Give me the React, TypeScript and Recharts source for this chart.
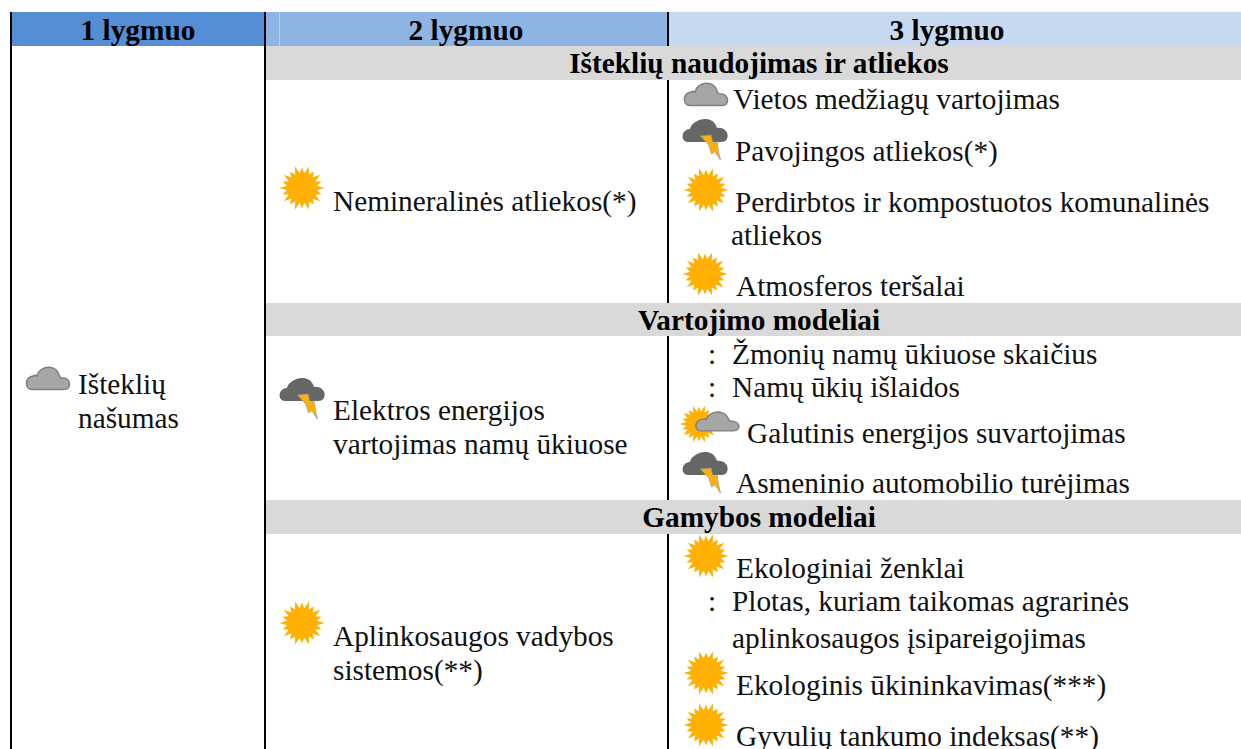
// App.tsx - indicator table drawn on hidden numeric axes
import { ComposedChart, Scatter, XAxis, YAxis, ReferenceArea, ReferenceLine } from 'recharts'

const WIDTH = 1241
const HEIGHT = 749

const headerLabels = ['1 lygmuo', '2 lygmuo', '3 lygmuo']
const headerCentres = [138, 466, 947]
const headerFills = ['#558ed5', '#8eb4e3', '#c6d9f1']
const headerEdges = [10, 265, 668, 1241]

const bandLabels = ['Išteklių naudojimas ir atliekos', 'Vartojimo modeliai', 'Gamybos modeliai']
const bandCentres = [759, 759, 759]
const bandBaselines = [73, 330, 527]
const bandTops = [46, 303, 500]
const bandBottoms = [80, 336, 534]

const bodyLabels = [
  'Išteklių', 'našumas',
  'Nemineralinės atliekos(*)',
  'Elektros energijos', 'vartojimas namų ūkiuose',
  'Aplinkosaugos vadybos', 'sistemos(**)',
  'Vietos medžiagų vartojimas',
  'Pavojingos atliekos(*)',
  'Perdirbtos ir kompostuotos komunalinės', 'atliekos',
  'Atmosferos teršalai',
  ':', 'Žmonių namų ūkiuose skaičius',
  ':', 'Namų ūkių išlaidos',
  'Galutinis energijos suvartojimas',
  'Asmeninio automobilio turėjimas',
  'Ekologiniai ženklai',
  ':', 'Plotas, kuriam taikomas agrarinės', 'aplinkosaugos įsipareigojimas',
  'Ekologinis ūkininkavimas(***)',
  'Gyvulių tankumo indeksas(**)',
]
const bodyX = [
  78, 78, 333, 333, 333, 333, 333, 733, 735, 735, 731, 736,
  708, 732, 708, 732, 747, 736, 736, 708, 732, 732, 736, 736,
]
const bodyY = [
  394, 428, 211, 420, 454, 646, 680, 109, 161, 212, 245, 296,
  364, 364, 397, 397, 443, 493, 578, 611, 611, 648, 695, 746,
]

const iconKinds = [
  'cloud', 'sun', 'storm', 'sun', 'cloud', 'storm', 'sun', 'sun',
  'mixed', 'storm', 'sun', 'sun', 'sun',
]
const iconX = [48, 302, 302, 302, 706, 705, 706, 705, 711, 705, 706, 706, 706]
const iconY = [379, 188, 398, 623, 95, 139, 190, 274, 423, 472, 556, 673, 725]

const headerData = headerLabels.map((label, i) => ({ x: headerCentres[i], y: 40, label }))
const bandData = bandLabels.map((label, i) => ({ x: bandCentres[i], y: bandBaselines[i], label }))
const bodyData = bodyLabels.map((label, i) => ({ x: bodyX[i], y: bodyY[i], label }))
const iconData = iconKinds.map((kind, i) => ({ x: iconX[i], y: iconY[i], kind }))

const FONT = '"Liberation Serif", "Times New Roman", serif'
const FONT_SIZE = 29.3

const BoldCentred = ({ cx, cy, payload }: any) => (
  <text x={cx} y={cy} textAnchor="middle" fontFamily={FONT} fontSize={FONT_SIZE} fontWeight="bold" fill="#000">
    {payload.label}
  </text>
)

const BodyText = ({ cx, cy, payload }: any) => (
  <text x={cx} y={cy} fontFamily={FONT} fontSize={FONT_SIZE} fill="#111">
    {payload.label}
  </text>
)

const sunPoints = () => {
  const pts: string[] = []
  const n = 20
  for (let i = 0; i < n * 2; i++) {
    const r = i % 2 === 1 ? 15 : i % 4 === 0 ? 22.5 : 20.5
    const a = (Math.PI * i) / n
    pts.push(`${(r * Math.cos(a)).toFixed(1)},${(r * Math.sin(a)).toFixed(1)}`)
  }
  return pts.join(' ')
}

const Sun = ({ scale = 1 }: { scale?: number }) => (
  <g transform={`scale(${scale})`}>
    <polygon points={sunPoints()} fill="#ffb000" />
  </g>
)

const CLOUD_PATH =
  'M-16,10.5 C-23,10.5 -24,-1 -15,-3 C-13,-4 -12,-4 -11,-3 C-8,-14 8,-15 11,-4 C12,-1 13,-1 15,-1 C23,-1 24,10.5 16,10.5 Z'

const Cloud = () => <path d={CLOUD_PATH} fill="#a6a6a6" stroke="#7f7f7f" strokeWidth={1.6} />

const Storm = () => (
  <g>
    <path
      d="M-17,3 C-24,3 -25,-9 -15,-10 C-13,-20 8,-26 12,-11 C18,-12 25,-7 22,0 C21,2 19,3 16,3 Z"
      fill="#666666"
    />
    <path
      d="M-4.5,-3 L6.2,-4 L7.8,4.3 L12.2,2.7 L13.2,11 L15.5,21 L9.8,12.7 L6.5,15 L3.8,6 Z"
      fill="#ffb000"
      stroke="#9a9a9a"
      strokeWidth={0.7}
    />
  </g>
)

const IconShape = ({ cx, cy, payload }: any) => {
  const kind = payload.kind
  return (
    <g transform={`translate(${cx},${cy})`}>
      {kind === 'sun' && <Sun />}
      {kind === 'cloud' && <Cloud />}
      {kind === 'storm' && <Storm />}
      {kind === 'mixed' && (
        <g>
          <g transform="translate(-12,1)"><Sun scale={0.85} /></g>
          <g transform="translate(6.3,-1) scale(1,0.85)"><Cloud /></g>
        </g>
      )}
    </g>
  )
}

// the third column's rule stops at each grey band
const rule3Tops = [12, ...bandBottoms]
const rule3Bottoms = [...bandTops, HEIGHT]

export default function App() {
  return (
    <div style={{ position: 'absolute', left: 0, top: 0, width: WIDTH, height: HEIGHT, background: '#fff', overflow: 'hidden' }}>
      <ComposedChart width={WIDTH} height={HEIGHT} margin={{ top: 0, right: 0, bottom: 0, left: 0 }}>
        <XAxis type="number" dataKey="x" domain={[0, WIDTH]} hide />
        <YAxis type="number" dataKey="y" domain={[0, HEIGHT]} reversed hide />
        {headerFills.map((fill, i) => (
          <ReferenceArea key={fill} x1={headerEdges[i]} x2={headerEdges[i + 1]} y1={12} y2={46} fill={fill} fillOpacity={1} stroke="none" />
        ))}
        {bandTops.map((top, i) => (
          <ReferenceArea key={top} x1={265} x2={WIDTH} y1={top} y2={bandBottoms[i]} fill="#d9d9d9" fillOpacity={1} stroke="none" />
        ))}
        <ReferenceLine segment={[{ x: 279.5, y: 12 }, { x: 279.5, y: 46 }]} stroke="#bcd2ef" strokeWidth={1} />
        <ReferenceLine segment={[{ x: 11, y: 12 }, { x: 11, y: HEIGHT }]} stroke="#000" strokeWidth={2} />
        <ReferenceLine segment={[{ x: 265, y: 12 }, { x: 265, y: HEIGHT }]} stroke="#000" strokeWidth={2} />
        {rule3Tops.map((top, i) => (
          <ReferenceLine key={top} segment={[{ x: 668, y: top }, { x: 668, y: rule3Bottoms[i] }]} stroke="#000" strokeWidth={2} />
        ))}
        <Scatter data={headerData} shape={BoldCentred} isAnimationActive={false} />
        <Scatter data={bandData} shape={BoldCentred} isAnimationActive={false} />
        <Scatter data={bodyData} shape={BodyText} isAnimationActive={false} />
        <Scatter data={iconData} shape={IconShape} isAnimationActive={false} />
      </ComposedChart>
    </div>
  )
}
